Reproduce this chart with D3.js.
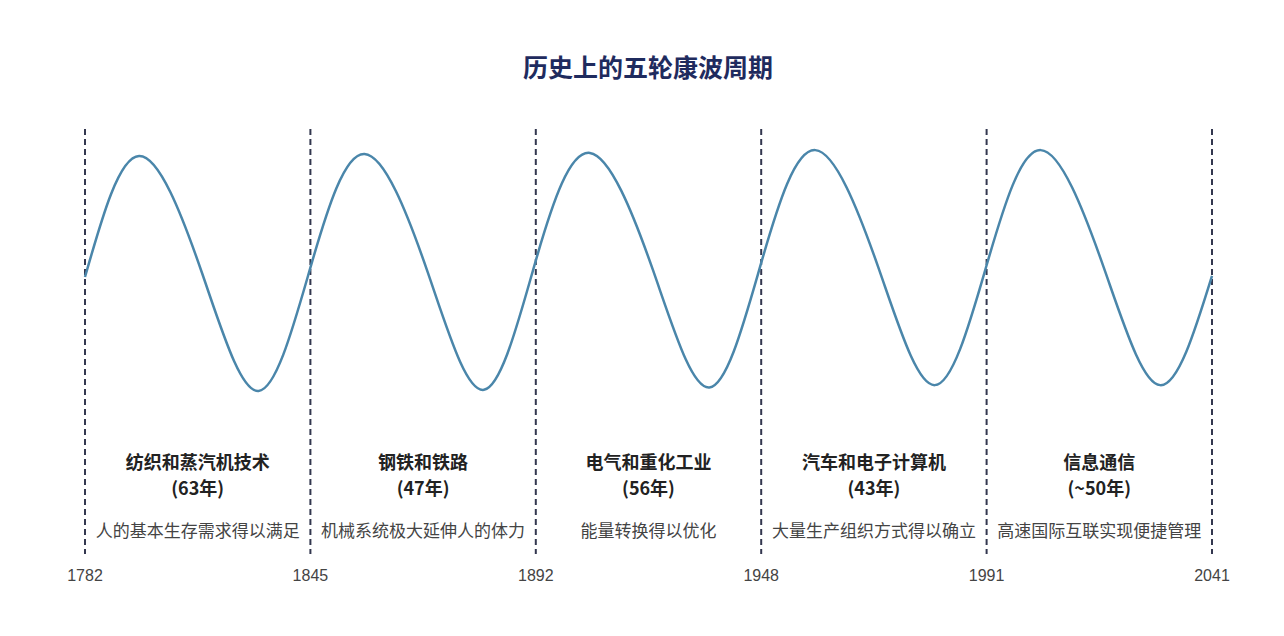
<!DOCTYPE html>
<html>
<head>
<meta charset="utf-8">
<script src="https://d3js.org/d3.v7.min.js"></script>
<style>
  html, body { margin: 0; padding: 0; background: #ffffff; }
  svg { display: block; }
</style>
</head>
<body>
<div id="chart"></div>
<script>
// Boundary years (equal spacing on the page, not proportional)
const boundaryYears = ["1782", "1845", "1892", "1948", "1991", "2041"];

// Cycle labels
const cycleNames = ["纺织和蒸汽机技术", "钢铁和铁路", "电气和重化工业", "汽车和电子计算机", "信息通信"];
const cycleLengths = ["(63年)", "(47年)", "(56年)", "(43年)", "(~50年)"];
const cycleDescs = ["人的基本生存需求得以满足", "机械系统极大延伸人的体力", "能量转换得以优化", "大量生产组织方式得以确立", "高速国际互联实现便捷管理"];

// Wave (relative units, +1 = crest, -1 = trough)
const crossValues = [-0.03, 0.05, 0.11, 0.09, 0.07, -0.02]; // at each boundary
const peakValues = [1.0, 1.017, 1.026, 1.05, 1.05];
const troughValues = [-1.0, -0.99, -0.97, -0.95, -0.95];
const keyPhase = [0, 0.24, 0.52, 0.77]; // position inside a cycle: start, crest, middle, trough

const width = 1284;
const height = 636;

const svg = d3.select("#chart")
    .append("svg")
    .attr("width", width)
    .attr("height", height);

const x = d3.scaleLinear().domain([0, cycleNames.length]).range([85, 1212]);
const y = d3.scaleLinear().domain([-1, 1]).range([391, 156]);

// title
svg.append("text")
    .attr("x", 648)
    .attr("y", 77)
    .attr("text-anchor", "middle")
    .attr("font-family", "'Noto Sans CJK SC', sans-serif")
    .attr("font-size", "25px")
    .attr("font-weight", "bold")
    .attr("fill", "#1f2b5e")
    .text("历史上的五轮康波周期");

// dashed boundaries
svg.append("g")
    .selectAll("line")
    .data(boundaryYears)
    .enter()
    .append("line")
    .attr("x1", (d, i) => x(i))
    .attr("x2", (d, i) => x(i))
    .attr("y1", 129)
    .attr("y2", 554)
    .attr("stroke", "#33374f")
    .attr("stroke-width", 2)
    .attr("stroke-dasharray", "6,4");

// wave points
let wavePts = [];
cycleNames.forEach((c, i) => {
    const mid = (peakValues[i] + troughValues[i]) / 2;
    const vals = [crossValues[i], peakValues[i], mid, troughValues[i]];
    keyPhase.forEach((p, k) => wavePts.push([i + p, vals[k]]));
});
wavePts.push([cycleNames.length, crossValues[cycleNames.length]]);

const line = d3.line()
    .x(d => x(d[0]))
    .y(d => y(d[1]))
    .curve(d3.curveNatural);

svg.append("path")
    .datum(wavePts)
    .attr("d", line)
    .attr("fill", "none")
    .attr("stroke", "#4a86aa")
    .attr("stroke-width", 2.5);

// cycle labels
const labels = svg.append("g")
    .selectAll("g")
    .data(cycleNames)
    .enter()
    .append("g")
    .attr("transform", (d, i) => `translate(${x(i + 0.5)},0)`);

labels.append("text")
    .attr("y", 469)
    .attr("text-anchor", "middle")
    .attr("font-family", "'Noto Sans CJK SC', sans-serif")
    .attr("font-size", "18px")
    .attr("font-weight", "bold")
    .attr("fill", "#222")
    .text(d => d);

labels.append("text")
    .attr("y", 495)
    .attr("text-anchor", "middle")
    .attr("font-family", "'Noto Sans CJK SC', sans-serif")
    .attr("font-size", "18px")
    .attr("font-weight", "bold")
    .attr("fill", "#222")
    .text((d, i) => cycleLengths[i]);

labels.append("text")
    .attr("y", 537)
    .attr("text-anchor", "middle")
    .attr("font-family", "'Noto Sans CJK SC', sans-serif")
    .attr("font-size", "17px")
    .attr("fill", "#444")
    .text((d, i) => cycleDescs[i]);

// year labels
svg.append("g")
    .selectAll("text")
    .data(boundaryYears)
    .enter()
    .append("text")
    .attr("x", (d, i) => x(i))
    .attr("y", 581)
    .attr("text-anchor", "middle")
    .attr("font-family", "'Liberation Sans', Arial, sans-serif")
    .attr("font-size", "16px")
    .attr("fill", "#444")
    .text(d => d);
</script>
</body>
</html>
